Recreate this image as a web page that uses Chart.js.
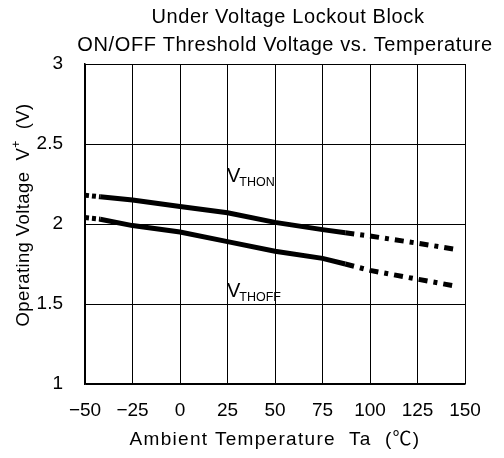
<!DOCTYPE html>
<html>
<head>
<meta charset="utf-8">
<script src="https://cdn.jsdelivr.net/npm/chart.js@4/dist/chart.umd.min.js"></script>
<style>
  html, body { margin: 0; padding: 0; background: #fff; }
  #wrap { width: 504px; height: 458px; }
</style>
</head>
<body>
<div id="wrap"><canvas id="c" width="504" height="458"></canvas></div>
<script>
"use strict";

// Values.
const temps = [-50, -42, -25, 0, 25, 50, 75, 87, 100, 125, 146];
const vthon = [2.18, 2.17, 2.15, 2.11, 2.07, 2.01, 1.965, 1.945, 1.925, 1.88, 1.84];
const vthoff = [2.04, 2.03, 1.99, 1.95, 1.89, 1.83, 1.785, 1.75, 1.71, 1.655, 1.61];
const xTicks = [-50, -25, 0, 25, 50, 75, 100, 125, 150];
const yTicks = [1, 1.5, 2, 2.5, 3];

const FONT = "'Liberation Sans', 'Noto Sans CJK JP', sans-serif";
const solidFrom = -42;   // left dotted stub ends here
const solidTo = 87;      // right dash-dot tail starts here

const toPoints = (ys) => temps.map((t, i) => ({ x: t, y: ys[i] }));

function dashFor(ctx) {
  if (ctx.p1.parsed.x <= solidFrom) return [4, 3];
  if (ctx.p0.parsed.x >= solidTo) return [9, 6, 4, 6];
  return [];
}

// Titles, curve labels and axis titles drawn as canvas text
// (the reference font is spaced wider than Liberation Sans).
const labelsPlugin = {
  id: "labels",
  afterDraw(chart) {
    const { ctx, chartArea } = chart;
    ctx.save();
    ctx.fillStyle = "#000";
    ctx.textBaseline = "middle";
    ctx.textAlign = "center";
    ctx.font = "20px " + FONT;
    ctx.letterSpacing = "0.6px";
    ctx.fillText("Under Voltage Lockout Block", 288, 17);
    ctx.fillText("ON/OFF Threshold Voltage vs. Temperature", 285, 45);

    ctx.font = "19px " + FONT;
    ctx.letterSpacing = "1.3px";
    ctx.fillText("Ambient Temperature  Ta  (\u2103)", (chartArea.left + chartArea.right) / 2, 440);
    ctx.letterSpacing = "0px";

    ctx.textBaseline = "alphabetic";
    function sub(main, small, x, y) {
      ctx.textAlign = "left";
      ctx.font = "20px " + FONT;
      ctx.fillText(main, x, y);
      const w = ctx.measureText(main).width;
      ctx.font = "12.5px " + FONT;
      ctx.fillText(small, x + w - 1, y + 4);
    }
    sub("V", "THON", 227, 182);
    sub("V", "THOFF", 227, 297);

    // y axis title with superscript +
    ctx.textBaseline = "middle";
    ctx.translate(24, 215);
    ctx.rotate(-Math.PI / 2);
    ctx.letterSpacing = "0.4px";
    const a = "Operating Voltage  V";
    const b = "  (V)";
    ctx.font = "18.5px " + FONT;
    const wa = ctx.measureText(a).width;
    const wb = ctx.measureText(b).width;
    ctx.font = "12px " + FONT;
    const wp = ctx.measureText("+").width;
    const x0 = -(wa + wp + wb) / 2;
    ctx.textAlign = "left";
    ctx.font = "18.5px " + FONT;
    ctx.fillText(a, x0, 0);
    ctx.font = "12px " + FONT;
    ctx.fillText("+", x0 + wa, -7);
    ctx.font = "18.5px " + FONT;
    ctx.fillText(b, x0 + wa + wp, 0);
    ctx.restore();
  },
};

const line = (ys) => ({
  data: toPoints(ys),
  borderColor: "#000",
  borderWidth: 5,
  pointRadius: 0,
  tension: 0,
  fill: false,
  segment: { borderDash: dashFor },
});

new Chart(document.getElementById("c"), {
  type: "line",
  data: { datasets: [line(vthon), line(vthoff)] },
  options: {
    responsive: false,
    animation: false,
    events: [],
    layout: { padding: { top: 64, right: 39, left: 0, bottom: 0 } },
    plugins: { legend: { display: false }, tooltip: { enabled: false } },
    scales: {
      x: {
        type: "linear",
        min: -50,
        max: 150,
        afterBuildTicks: (s) => { s.ticks = xTicks.map((v) => ({ value: v })); },
        afterFit: (s) => { s.height = 74; },
        grid: { color: "#000", lineWidth: 1, drawTicks: false },
        border: { color: "#000", width: 1.5 },
        ticks: {
          color: "#000",
          padding: 15,
          font: { family: FONT, size: 19 },
          callback: (v) => String(v).replace("-", "\u2212"),
          maxRotation: 0,
        },
      },
      y: {
        type: "linear",
        min: 1,
        max: 3,
        afterBuildTicks: (s) => { s.ticks = yTicks.map((v) => ({ value: v })); },
        afterFit: (s) => { s.width = 85; },
        grid: { color: "#000", lineWidth: 1, drawTicks: false },
        border: { color: "#000", width: 1.5 },
        ticks: {
          color: "#000",
          padding: 22,
          font: { family: FONT, size: 19 },
          callback: (v) => String(v),
        },
      },
    },
  },
  plugins: [labelsPlugin],
});
</script>
</body>
</html>
